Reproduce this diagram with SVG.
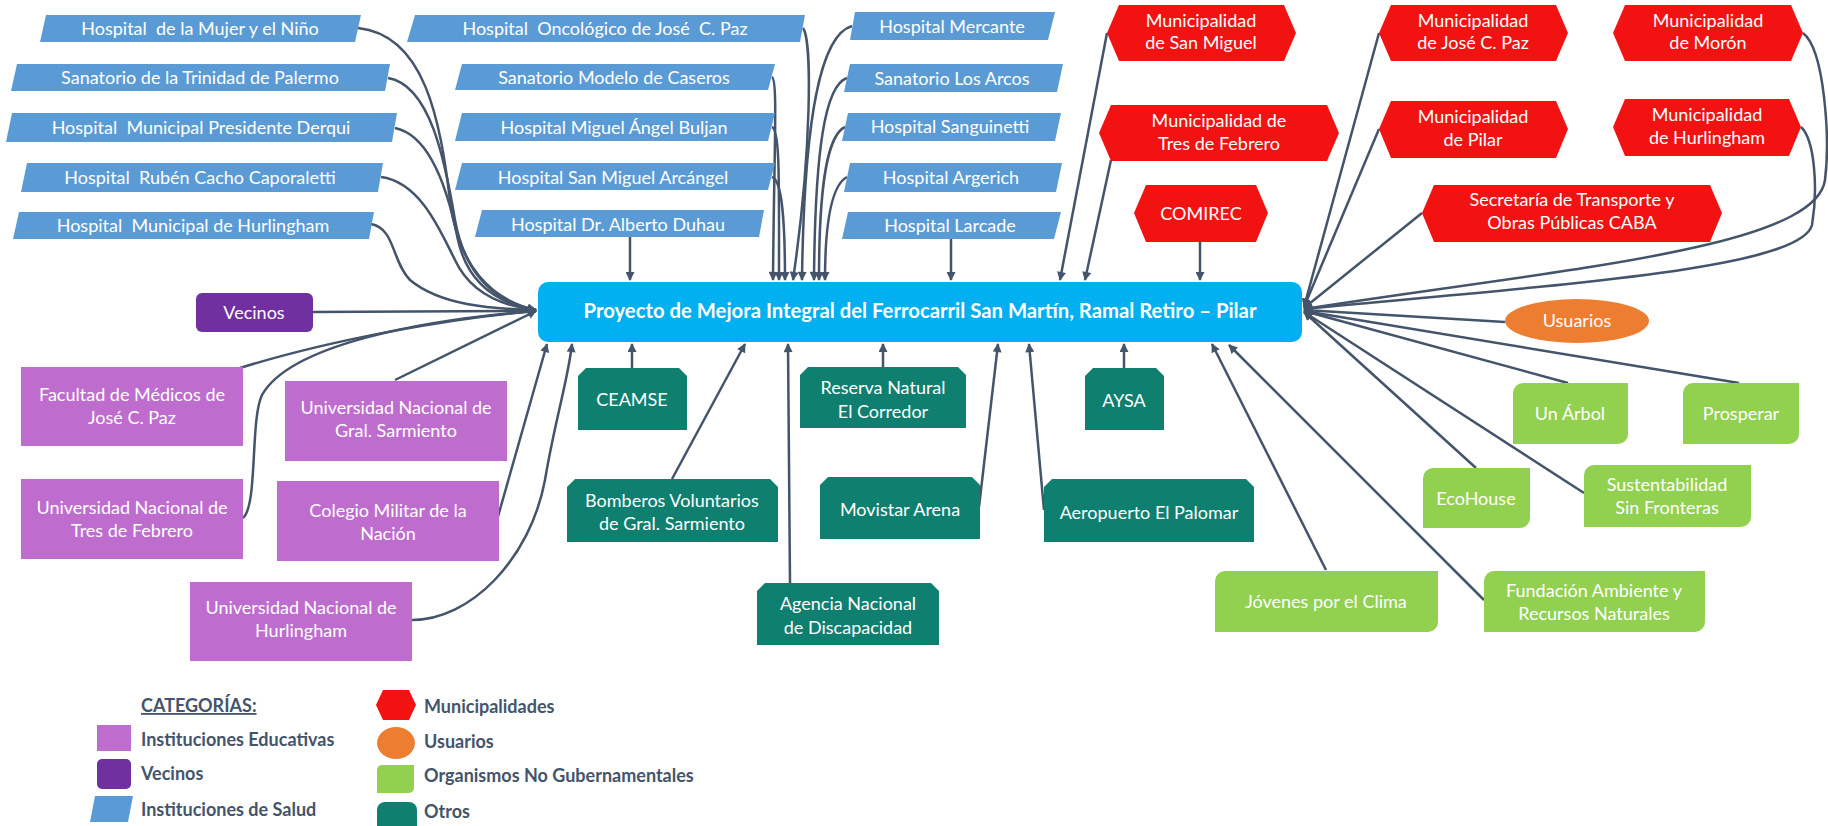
<svg xmlns="http://www.w3.org/2000/svg" width="1828" height="826" viewBox="0 0 1828 826">
<style>
.hs{fill:#5B9BD5}
.mu{fill:#F21212}
.ed{fill:#BE6DCF}
.ot{fill:#0F7F6F}
.ng{fill:#92D050}
.tw{font-family:Lato,"Liberation Sans",sans-serif;font-size:18px;fill:#FFFFFF;text-anchor:middle}
.tt{font-family:Lato,"Liberation Sans",sans-serif;font-size:20.3px;font-weight:bold;fill:#FFFFFF;text-anchor:middle}
.lg{font-family:Lato,"Liberation Sans",sans-serif;font-size:18px;font-weight:bold;fill:#44546A}
.c path{fill:none;stroke:#44546A;stroke-width:2.5;marker-end:url(#ah)}
</style>
<defs>
<marker id="ah" viewBox="0 0 10 10" refX="9" refY="5" markerWidth="10" markerHeight="9" markerUnits="userSpaceOnUse" orient="auto">
<path d="M0,0 L10,5 L0,10 z" fill="#44546A"/>
</marker>
</defs>
<rect width="1828" height="826" fill="#FFFFFF"/>

<g id="connectors" class="c">
<path d="M358,28 C425,35 440,120 450,200 C458,265 490,300 536,310"/>
<path d="M388,78 C430,85 445,160 455,220 C465,275 495,302 536,310"/>
<path d="M395,128 C430,135 448,190 458,240 C468,285 500,304 536,310"/>
<path d="M381,177 C420,182 440,230 455,260 C470,292 500,306 536,310"/>
<path d="M371,224 C395,228 392,262 410,280 C440,305 490,309 536,310"/>
<path d="M313,312 L536,311"/>
<path d="M240,368 C330,340 450,318 536,311"/>
<path d="M243,518 C258,505 250,420 262,395 C290,345 420,320 536,311"/>
<path d="M395,380 L536,311"/>
<path d="M497,520 L547,344"/>
<path d="M412,620 C470,620 530,560 545,480 C555,420 568,380 572,344"/>
<path d="M630,237 L630,280"/>
<path d="M772,77 C778,80 774,150 773,280"/>
<path d="M772,127 C780,130 779,180 779,280"/>
<path d="M772,177 C782,180 785,220 785,280"/>
<path d="M803,28 C812,40 812,150 793,280"/>
<path d="M852,26 C820,35 804,120 802,280"/>
<path d="M847,78 C825,85 815,150 814,280"/>
<path d="M845,127 C828,135 819,180 819,280"/>
<path d="M847,177 C832,185 825,220 825,280"/>
<path d="M951,239 L951,280"/>
<path d="M1107,33 L1060,280"/>
<path d="M1111,160 L1085,280"/>
<path d="M1200,242 L1200,280"/>
<path d="M632,368 L632,344"/>
<path d="M672,479 L745,344"/>
<path d="M790,583 L788,344"/>
<path d="M883,367 L883,344"/>
<path d="M979,507 L998,344"/>
<path d="M1044,510 L1029,344"/>
<path d="M1124,368 L1124,344"/>
<path d="M1326,570 L1212,344"/>
<path d="M1484,600 L1229,345"/>
<path d="M1379,33 L1304,307"/>
<path d="M1379,129 L1304,307"/>
<path d="M1422,213 L1304,308"/>
<path d="M1803,33 C1825,50 1830,140 1825,180 C1815,250 1550,270 1304,309"/>
<path d="M1801,127 C1815,140 1818,190 1812,225 C1800,270 1550,285 1304,309"/>
<path d="M1505,322 L1304,310"/>
<path d="M1568,383 L1304,311"/>
<path d="M1739,383 L1304,311"/>
<path d="M1476,468 L1304,312"/>
<path d="M1584,493 L1304,312"/>
</g>

<g id="n-mujer"><polygon class="hs" points="46,15 361,15 355,42 40,42"/><text class="tw" x="200" y="35" xml:space="preserve">Hospital  de la Mujer y el Niño</text></g>
<g id="n-trinidad"><polygon class="hs" points="17,64 390,64 385,91 11,91"/><text class="tw" x="200" y="84">Sanatorio de la Trinidad de Palermo</text></g>
<g id="n-derqui"><polygon class="hs" points="12,113 397,113 392,142 6,142"/><text class="tw" x="201" y="134" xml:space="preserve">Hospital  Municipal Presidente Derqui</text></g>
<g id="n-ruben"><polygon class="hs" points="27,163 383,163 378,192 21,192"/><text class="tw" x="200" y="184" xml:space="preserve">Hospital  Rubén Cacho Caporaletti</text></g>
<g id="n-hurlhosp"><polygon class="hs" points="19,212 374,212 369,239 13,239"/><text class="tw" x="193" y="232" xml:space="preserve">Hospital  Municipal de Hurlingham</text></g>

<g id="n-oncologico"><polygon class="hs" points="415,15 805,15 800,42 407,42"/><text class="tw" x="605" y="35" xml:space="preserve">Hospital  Oncológico de José  C. Paz</text></g>
<g id="n-caseros"><polygon class="hs" points="462,64 775,64 768,90 455,90"/><text class="tw" x="614" y="84">Sanatorio Modelo de Caseros</text></g>
<g id="n-buljan"><polygon class="hs" points="462,113 775,113 768,141 455,141"/><text class="tw" x="614" y="134">Hospital Miguel Ángel Buljan</text></g>
<g id="n-arcangel"><polygon class="hs" points="462,163 775,163 768,190 455,190"/><text class="tw" x="613" y="184">Hospital San Miguel Arcángel</text></g>
<g id="n-duhau"><polygon class="hs" points="482,210 764,210 759,237 475,237"/><text class="tw" x="618" y="231">Hospital Dr. Alberto Duhau</text></g>

<g id="n-mercante"><polygon class="hs" points="855,12 1055,12 1048,40 850,40"/><text class="tw" x="952" y="33">Hospital Mercante</text></g>
<g id="n-losarcos"><polygon class="hs" points="850,64 1063,64 1057,92 844,92"/><text class="tw" x="952" y="85">Sanatorio Los Arcos</text></g>
<g id="n-sanguinetti"><polygon class="hs" points="848,113 1061,113 1055,141 842,141"/><text class="tw" x="950" y="133">Hospital Sanguinetti</text></g>
<g id="n-argerich"><polygon class="hs" points="850,163 1062,163 1056,192 844,192"/><text class="tw" x="951" y="184">Hospital Argerich</text></g>
<g id="n-larcade"><polygon class="hs" points="848,212 1061,212 1054,239 842,239"/><text class="tw" x="950" y="232">Hospital Larcade</text></g>

<g id="n-sanmiguel"><polygon class="mu" points="1107,33 1119,5 1284,5 1296,33 1284,61 1119,61"/><text class="tw" x="1201" y="27"><tspan x="1201">Municipalidad</tspan><tspan x="1201" y="49">de San Miguel</tspan></text></g>
<g id="n-tresfebrero"><polygon class="mu" points="1099,133 1111,105 1327,105 1339,133 1327,161 1111,161"/><text class="tw" x="1219" y="127"><tspan x="1219">Municipalidad de</tspan><tspan x="1219" y="150">Tres de Febrero</tspan></text></g>
<g id="n-comirec"><polygon class="mu" points="1134,213 1146,185 1256,185 1268,213 1256,242 1146,242"/><text class="tw" x="1201" y="220">COMIREC</text></g>
<g id="n-josecpaz"><polygon class="mu" points="1379,33 1391,5 1556,5 1568,33 1556,61 1391,61"/><text class="tw" x="1473" y="27"><tspan x="1473">Municipalidad</tspan><tspan x="1473" y="49">de José C. Paz</tspan></text></g>
<g id="n-pilar"><polygon class="mu" points="1379,129 1391,101 1556,101 1568,129 1556,158 1391,158"/><text class="tw" x="1473" y="123"><tspan x="1473">Municipalidad</tspan><tspan x="1473" y="146">de Pilar</tspan></text></g>
<g id="n-moron"><polygon class="mu" points="1613,33 1625,5 1791,5 1803,33 1791,61 1625,61"/><text class="tw" x="1708" y="27"><tspan x="1708">Municipalidad</tspan><tspan x="1708" y="49">de Morón</tspan></text></g>
<g id="n-hurlmun"><polygon class="mu" points="1613,127 1625,99 1789,99 1801,127 1789,156 1625,156"/><text class="tw" x="1707" y="121"><tspan x="1707">Municipalidad</tspan><tspan x="1707" y="144">de Hurlingham</tspan></text></g>
<g id="n-secretaria"><polygon class="mu" points="1422,213 1434,185 1710,185 1722,213 1710,242 1434,242"/><text class="tw" x="1572" y="206"><tspan x="1572">Secretaría de Transporte y</tspan><tspan x="1572" y="229">Obras Públicas CABA</tspan></text></g>

<g id="n-proyecto"><rect x="538" y="282" width="764" height="60" rx="10" fill="#00B0F0"/><text class="tt" x="920" y="318">Proyecto de Mejora Integral del Ferrocarril San Martín, Ramal Retiro – Pilar</text></g>

<g id="n-vecinos"><rect x="196" y="293" width="117" height="39" rx="6" fill="#7030A0"/><text class="tw" x="254" y="319">Vecinos</text></g>
<g id="n-facultad"><rect class="ed" x="21" y="367" width="222" height="79"/><text class="tw" x="132" y="401"><tspan x="132">Facultad de Médicos de</tspan><tspan x="132" y="424">José C. Paz</tspan></text></g>
<g id="n-ungs"><rect class="ed" x="285" y="381" width="222" height="80"/><text class="tw" x="396" y="414"><tspan x="396">Universidad Nacional de</tspan><tspan x="396" y="437">Gral. Sarmiento</tspan></text></g>
<g id="n-untref"><rect class="ed" x="21" y="479" width="222" height="80"/><text class="tw" x="132" y="514"><tspan x="132">Universidad Nacional de</tspan><tspan x="132" y="537">Tres de Febrero</tspan></text></g>
<g id="n-colegio"><rect class="ed" x="277" y="481" width="222" height="80"/><text class="tw" x="388" y="517"><tspan x="388">Colegio Militar de la</tspan><tspan x="388" y="540">Nación</tspan></text></g>
<g id="n-unahur"><rect class="ed" x="190" y="582" width="222" height="79"/><text class="tw" x="301" y="614"><tspan x="301">Universidad Nacional de</tspan><tspan x="301" y="637">Hurlingham</tspan></text></g>

<g id="n-ceamse"><path class="ot" d="M578,376 L586,368 H679 L687,376 V430 H578 Z"/><text class="tw" x="632" y="406">CEAMSE</text></g>
<g id="n-bomberos"><path class="ot" d="M567,487 L575,479 H770 L778,487 V542 H567 Z"/><text class="tw" x="672" y="507"><tspan x="672">Bomberos Voluntarios</tspan><tspan x="672" y="530">de Gral. Sarmiento</tspan></text></g>
<g id="n-reserva"><path class="ot" d="M800,375 L808,367 H958 L966,375 V428 H800 Z"/><text class="tw" x="883" y="394"><tspan x="883">Reserva Natural</tspan><tspan x="883" y="418">El Corredor</tspan></text></g>
<g id="n-agencia"><path class="ot" d="M757,591 L765,583 H931 L939,591 V645 H757 Z"/><text class="tw" x="848" y="610"><tspan x="848">Agencia Nacional</tspan><tspan x="848" y="634">de Discapacidad</tspan></text></g>
<g id="n-movistar"><path class="ot" d="M820,485 L828,477 H972 L980,485 V539 H820 Z"/><text class="tw" x="900" y="516">Movistar Arena</text></g>
<g id="n-aeropuerto"><path class="ot" d="M1044,487 L1052,479 H1246 L1254,487 V542 H1044 Z"/><text class="tw" x="1149" y="519">Aeropuerto El Palomar</text></g>
<g id="n-aysa"><path class="ot" d="M1085,376 L1093,368 H1156 L1164,376 V430 H1085 Z"/><text class="tw" x="1124" y="407">AYSA</text></g>

<g id="n-usuarios"><ellipse cx="1577" cy="321" rx="72" ry="22" fill="#ED7D31"/><text class="tw" x="1577" y="327">Usuarios</text></g>
<g id="n-unarbol"><path class="ng" d="M1513,393 A10,10 0 0 1 1523,383 H1628 V434 A10,10 0 0 1 1618,444 H1513 Z"/><text class="tw" x="1570" y="420">Un Árbol</text></g>
<g id="n-prosperar"><path class="ng" d="M1683,393 A10,10 0 0 1 1693,383 H1799 V434 A10,10 0 0 1 1789,444 H1683 Z"/><text class="tw" x="1741" y="420">Prosperar</text></g>
<g id="n-ecohouse"><path class="ng" d="M1423,478 A10,10 0 0 1 1433,468 H1530 V518 A10,10 0 0 1 1520,528 H1423 Z"/><text class="tw" x="1476" y="505">EcoHouse</text></g>
<g id="n-sustentabilidad"><path class="ng" d="M1584,475 A10,10 0 0 1 1594,465 H1751 V517 A10,10 0 0 1 1741,527 H1584 Z"/><text class="tw" x="1667" y="491"><tspan x="1667">Sustentabilidad</tspan><tspan x="1667" y="514">Sin Fronteras</tspan></text></g>
<g id="n-jovenes"><path class="ng" d="M1215,581 A10,10 0 0 1 1225,571 H1438 V622 A10,10 0 0 1 1428,632 H1215 Z"/><text class="tw" x="1326" y="608">Jóvenes por el Clima</text></g>
<g id="n-fundacion"><path class="ng" d="M1484,581 A10,10 0 0 1 1494,571 H1705 V622 A10,10 0 0 1 1695,632 H1484 Z"/><text class="tw" x="1594" y="597"><tspan x="1594">Fundación Ambiente y</tspan><tspan x="1594" y="620">Recursos Naturales</tspan></text></g>

<g id="legend">
<text class="lg" x="141" y="712" text-decoration="underline">CATEGORÍAS:</text>
<rect class="ed" x="97" y="725" width="34" height="26"/>
<text class="lg" x="141" y="746">Instituciones Educativas</text>
<rect x="97" y="759" width="34" height="30" rx="5" fill="#7030A0"/>
<text class="lg" x="141" y="780">Vecinos</text>
<polygon class="hs" points="95,796 133,796 128,822 90,822"/>
<text class="lg" x="141" y="816">Instituciones de Salud</text>
<polygon class="mu" points="376,705 383,690 409,690 416,705 409,720 383,720"/>
<text class="lg" x="424" y="713">Municipalidades</text>
<ellipse cx="396" cy="743" rx="19" ry="16" fill="#ED7D31"/>
<text class="lg" x="424" y="748">Usuarios</text>
<path class="ng" d="M377,770 A5,5 0 0 1 382,765 H414 V788 A5,5 0 0 1 409,793 H377 Z"/>
<text class="lg" x="424" y="782">Organismos No Gubernamentales</text>
<path class="ot" d="M377,810 A8,8 0 0 1 385,802 H409 A8,8 0 0 1 417,810 V830 H377 Z"/>
<text class="lg" x="424" y="818">Otros</text>
</g>
</svg>
